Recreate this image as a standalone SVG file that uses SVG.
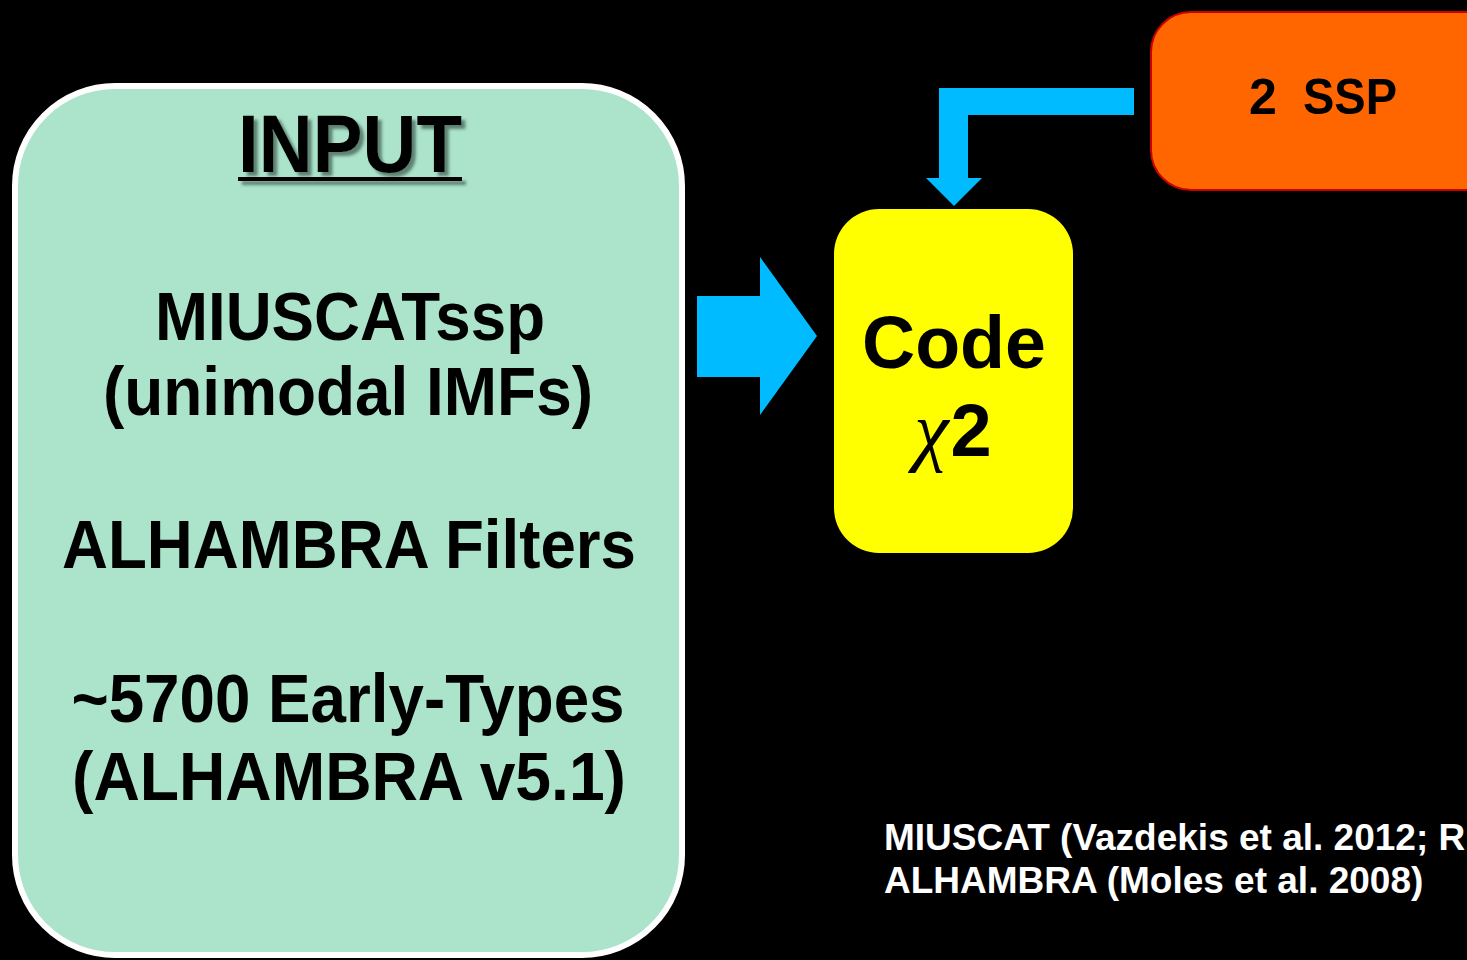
<svg xmlns="http://www.w3.org/2000/svg" width="1467" height="960" viewBox="0 0 1467 960">
  <defs>
    <filter id="shadow" x="-10%" y="-10%" width="130%" height="140%">
      <feGaussianBlur in="SourceAlpha" stdDeviation="1.5"/>
      <feOffset dx="4" dy="4" result="b"/>
      <feFlood flood-color="#4a6a5c" flood-opacity="0.8"/>
      <feComposite in2="b" operator="in"/>
      <feMerge><feMergeNode/><feMergeNode in="SourceGraphic"/></feMerge>
    </filter>
  </defs>
  <style>
    .big { font-family: "Liberation Sans", Arial, sans-serif; font-weight: bold; font-size: 68px; fill: #000; text-anchor: middle; }
    .ref { font-family: "Liberation Sans", Arial, sans-serif; font-weight: bold; font-size: 37px; fill: #fff; }
    .arrow { fill: #00BBFF; }
  </style>
  <rect x="0" y="0" width="1467" height="960" fill="#000"/>

  <g id="input">
    <rect x="15" y="86" width="667" height="869" rx="100" ry="100" fill="#ABE3CB" stroke="#fff" stroke-width="6"/>
    <g filter="url(#shadow)">
      <text x="350" y="172" font-family="Liberation Sans, Arial, sans-serif" font-weight="bold" font-size="82" text-anchor="middle" textLength="224" lengthAdjust="spacingAndGlyphs">INPUT</text>
      <rect x="238" y="177" width="224" height="4" fill="#000"/>
    </g>
    <text class="big" x="350" y="340" textLength="390" lengthAdjust="spacingAndGlyphs">MIUSCATssp</text>
    <text class="big" x="348" y="415" textLength="490" lengthAdjust="spacingAndGlyphs">(unimodal IMFs)</text>
    <text class="big" x="349" y="568" textLength="574" lengthAdjust="spacingAndGlyphs">ALHAMBRA Filters</text>
    <text class="big" x="348" y="722" textLength="553" lengthAdjust="spacingAndGlyphs">~5700 Early-Types</text>
    <text class="big" x="349" y="800" textLength="554" lengthAdjust="spacingAndGlyphs">(ALHAMBRA v5.1)</text>
  </g>

  <g id="code">
    <rect x="834" y="209" width="239" height="344" rx="45" ry="45" fill="#FFFF00"/>
    <text x="954" y="368" font-family="Liberation Sans, Arial, sans-serif" font-weight="bold" font-size="74" text-anchor="middle" textLength="184" lengthAdjust="spacingAndGlyphs">Code</text>
    <text x="953" y="456" text-anchor="middle"><tspan font-family="Liberation Serif, Times New Roman, serif" font-style="italic" font-size="78">χ</tspan><tspan font-family="Liberation Sans, Arial, sans-serif" font-weight="bold" font-size="74" dx="2">2</tspan></text>
  </g>

  <g id="ssp">
    <rect x="1151" y="12" width="360" height="178" rx="40" ry="40" fill="#FF6600" stroke="#CC0000" stroke-width="2"/>
    <text y="114" font-family="Liberation Sans, Arial, sans-serif" font-weight="bold" font-size="50" fill="#000"><tspan x="1249">2</tspan><tspan x="1303" textLength="94" lengthAdjust="spacingAndGlyphs">SSP</tspan></text>
  </g>

  <g id="connectors">
    <polygon class="arrow" points="697,296 760,296 760,257 817,336 760,415 760,377 697,377"/>
    <polygon class="arrow" points="1134,88 1134,115 968,115 968,178 982,178 954,206 926,178 939,178 939,88"/>
  </g>

  <g id="references">
    <text class="ref" x="884" y="850">MIUSCAT (Vazdekis et al. 2012; R</text>
    <text class="ref" x="884" y="893">ALHAMBRA (Moles et al. 2008)</text>
  </g>
</svg>
